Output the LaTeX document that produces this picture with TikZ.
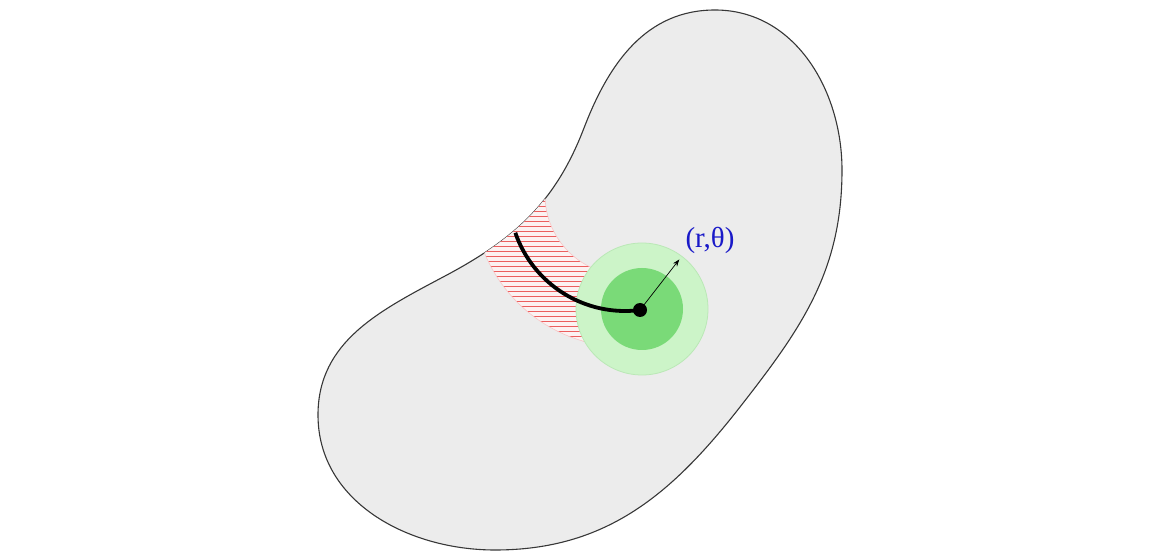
\documentclass[tikz,border=0pt]{standalone}
\usepackage{fontspec}
\setmainfont{Liberation Serif}
\usetikzlibrary{arrows.meta}
\definecolor{blobgray}{RGB}{236,236,236}
\definecolor{edgegray}{RGB}{55,55,55}
\definecolor{hatchred}{RGB}{235,95,95}
\definecolor{bandpink}{RGB}{252,242,242}
\definecolor{outergreen}{RGB}{204,244,200}
\definecolor{outeredge}{RGB}{186,232,182}
\definecolor{innergreen}{RGB}{122,218,120}
\definecolor{labelblue}{RGB}{25,25,200}
\tikzset{
  blob/.style={draw=edgegray,fill=blobgray,line width=1.1pt},
  band/.style={fill=bandpink},
  bandedge/.style={draw=hatchred!35,line width=0.6pt},
  hatch/.style={hatchred,line width=1pt},
  zone/.style={circle,inner sep=0pt},
  track/.style={black,line width=3.8pt},
  radline/.style={-{Stealth[length=7pt,width=5pt]},line width=0.7pt},
  lbl/.style={font=\fontsize{29}{32}\selectfont,text=labelblue,inner sep=0pt}
}
\newcommand{\blobshape}{(715,542) to[out=0,in=90] (842,382)
  to[out=-90,in=52] (740,145) to[out=-128,in=0] (495,2)
  to[out=180,in=-90] (318,137) to[out=90,in=-152] (445,276)
  to[out=28,in=-111] (584,424) to[out=69,in=180] (715,542) -- cycle}
\newcommand{\bandshape}{(bc) ++(160:152) arc[start angle=160,end angle=260,radius=152]
  -- ++(80:72) arc[start angle=260,end angle=160,radius=80] -- cycle}
\begin{document}
\begin{tikzpicture}[x=1pt,y=1pt]
  \useasboundingbox (0,0) rectangle (1151,552);
  % Domain
  \draw[blob] \blobshape;

  % Hatched band around the path
  \coordinate (bc) at (625,357);
  \begin{scope}
    \clip \blobshape;
    \begin{scope}
      \clip \bandshape;
      \fill[band] (400,180) rectangle (700,400);
      \foreach \k in {0,...,40} {\draw[hatch] (400,180.5+5*\k) -- (700,180.5+5*\k);}
    \end{scope}
    \draw[bandedge] \bandshape;
  \end{scope}

  % Neighbourhood of the point
  \node[zone,fill=outergreen,draw=outeredge,line width=0.8pt,minimum size=132pt] (outer) at (642,243) {};
  \node[zone,fill=innergreen,minimum size=82pt] (inner) at (642,243) {};

  % Path ending at the point, radius arrow and label
  \coordinate (cstart) at ([shift={(199:116)}]bc);
  \draw[track] (cstart) arc[start angle=199,end angle=277.4,radius=116];
  \node[lbl] (rt) at (710,312) {(r,θ)};
  \draw[radline] (640,242) -- ([shift={(-6pt,-6pt)}]rt.south west);
  \node[zone,fill=black,minimum size=14pt] (pt) at (640,242) {};
\end{tikzpicture}
\end{document}
